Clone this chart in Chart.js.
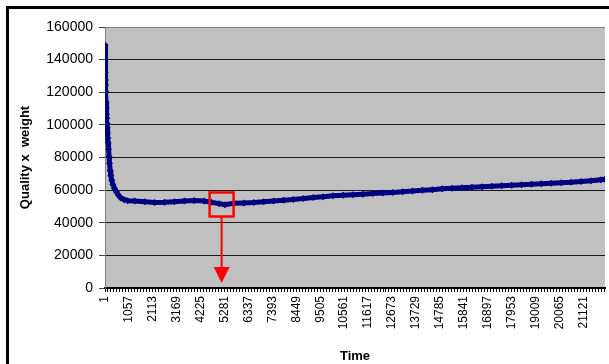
<!DOCTYPE html>
<html>
<head>
<meta charset="utf-8">
<script src="https://cdn.jsdelivr.net/npm/chart.js@4"></script>
<style>
  html, body { margin: 0; padding: 0; background: #fff; }
  #wrap { position: relative; width: 609px; height: 364px; overflow: hidden; }
  #frame { position: absolute; left: 6px; top: 6px; width: 700px; height: 400px;
           border-left: 3px solid #000; border-top: 3px solid #000; pointer-events: none; }
</style>
</head>
<body>
<div id="wrap">
  <canvas id="chart" width="609" height="364"></canvas>
  <div id="frame"></div>
</div>
<script>
// time index of each sample
const timePoints = [
    1, 12, 20, 28, 36, 46, 56, 66, 76, 86, 96, 110, 125, 140, 160, 180, 200, 230, 260, 300,
    350, 420, 500, 600, 700, 850, 1000,
    1315, 1753, 2191, 2629, 3067, 3505, 3943, 4381, 4688, 5038, 5301, 5695, 6133, 6571,
    7009, 7447, 7885, 8323, 8761, 9199, 9637, 10075, 10513, 10951, 11389, 11827, 12265,
    12703, 13141, 13579, 14017, 14455, 14893, 15331, 15769, 16207, 16645, 17083, 17521,
    17959, 18397, 18835, 19273, 19711, 20149, 20587, 21025, 21463, 21901, 22080
];

// quality x weight at each sample
const qualityValues = [
    149000, 132000, 127500, 124500, 120500, 114000, 110500, 106500, 104000, 101000, 98500, 95000, 92000, 89000, 85000, 80500, 76500, 72000, 69000, 66000,
    63500, 61000, 59000, 56800, 55200, 54100, 53500,
    53300, 52900, 52400, 52500, 52900, 53300, 53700, 53300, 52600, 51700, 51100, 51900, 52100, 52400,
    52900, 53300, 53800, 54300, 54900, 55500, 56000, 56500, 56900, 57200, 57500, 57900, 58300,
    58600, 59000, 59400, 59900, 60300, 60800, 61200, 61500, 61800, 62100, 62400, 62700,
    63000, 63300, 63600, 63900, 64200, 64500, 64900, 65300, 65800, 66300, 66700
];

const xTickLabels = [
    1, 1057, 2113, 3169, 4225, 5281, 6337, 7393, 8449, 9505, 10561,
    11617, 12673, 13729, 14785, 15841, 16897, 17953, 19009, 20065, 21121
];

const yTicks = [0, 20000, 40000, 60000, 80000, 100000, 120000, 140000, 160000];

// red box + arrow drawn over the curve
const markTime = 5150;
const markValue = 51200;
const arrowToValue = 3000;

const plotBg = {
    id: 'plotBg',
    beforeDraw(chart) {
        const { ctx, chartArea: a } = chart;
        ctx.save();
        ctx.fillStyle = '#c0c0c0';
        ctx.fillRect(a.left, a.top, a.right - a.left, a.bottom - a.top);
        ctx.restore();
    }
};

const redMark = {
    id: 'redMark',
    afterDatasetsDraw(chart) {
        const { ctx, scales } = chart;
        const cx = scales.x.getPixelForValue(markTime);
        const cy = scales.y.getPixelForValue(markValue);
        const endY = scales.y.getPixelForValue(arrowToValue);
        const h = 12;
        ctx.save();
        ctx.strokeStyle = '#ff0000';
        ctx.fillStyle = '#ff0000';
        ctx.lineWidth = 2.5;
        ctx.strokeRect(cx - h, cy - h, h * 2, h * 2);
        ctx.lineWidth = 2;
        ctx.beginPath();
        ctx.moveTo(cx, cy + h);
        ctx.lineTo(cx, endY - 14);
        ctx.stroke();
        ctx.beginPath();
        ctx.moveTo(cx - 8, endY - 16);
        ctx.lineTo(cx + 8, endY - 16);
        ctx.lineTo(cx, endY);
        ctx.closePath();
        ctx.fill();
        ctx.restore();
    }
};

const minorTicks = [];
for (let t = 1; t <= 22080; t += 132) minorTicks.push({ value: t });

new Chart(document.getElementById('chart'), {
    type: 'line',
    data: {
        datasets: [{
            data: timePoints.map((t, i) => ({ x: t, y: qualityValues[i] })),
            borderColor: '#000080',
            backgroundColor: '#000080',
            borderWidth: 5,
            pointStyle: 'rectRot',
            pointRadius: 3.5,
            pointBorderWidth: 0,
            tension: 0
        }]
    },
    options: {
        responsive: false,
        animation: false,
        events: [],
        layout: { padding: { top: 27, right: 0, bottom: 0, left: 0 } },
        plugins: { legend: { display: false }, tooltip: { enabled: false } },
        scales: {
            x: {
                type: 'linear',
                min: 1,
                max: 22080,
                afterBuildTicks: (scale) => { scale.ticks = minorTicks.slice(); },
                afterFit: (scale) => { scale.height = 76; scale.paddingLeft = 0; scale.paddingRight = 0; },
                border: { display: true, color: '#000', width: 2 },
                grid: { drawOnChartArea: false, drawTicks: true, tickLength: 4, color: '#000' },
                ticks: {
                    autoSkip: false,
                    minRotation: 90,
                    maxRotation: 90,
                    padding: 4,
                    color: '#000',
                    font: { family: 'Liberation Sans', size: 12 },
                    callback: (v) => xTickLabels.includes(v) ? String(v) : ''
                },
                title: {
                    display: true,
                    text: 'Time',
                    color: '#000',
                    padding: { top: 0, bottom: 0 },
                    font: { family: 'Liberation Sans', size: 13, weight: 'bold' }
                }
            },
            y: {
                min: 0,
                max: 160000,
                afterBuildTicks: (scale) => { scale.ticks = yTicks.map(v => ({ value: v })); },
                afterFit: (scale) => { scale.width = 105; scale.paddingTop = 0; scale.paddingBottom = 0; },
                border: { display: true, color: '#808080', width: 1 },
                grid: {
                    color: (c) => c.tick && c.tick.value === 160000 ? '#808080' : '#1a1a1a',
                    tickColor: '#404040',
                    tickLength: 6,
                    lineWidth: 1
                },
                ticks: {
                    padding: 6,
                    color: '#000',
                    font: { family: 'Liberation Sans', size: 14 },
                    callback: (v) => String(v)
                },
                title: {
                    display: true,
                    text: 'Quality x  weight',
                    color: '#000',
                    padding: { top: 18, bottom: 0 },
                    font: { family: 'Liberation Sans', size: 13, weight: 'bold' }
                }
            }
        }
    },
    plugins: [plotBg, redMark]
});
</script>
</body>
</html>
